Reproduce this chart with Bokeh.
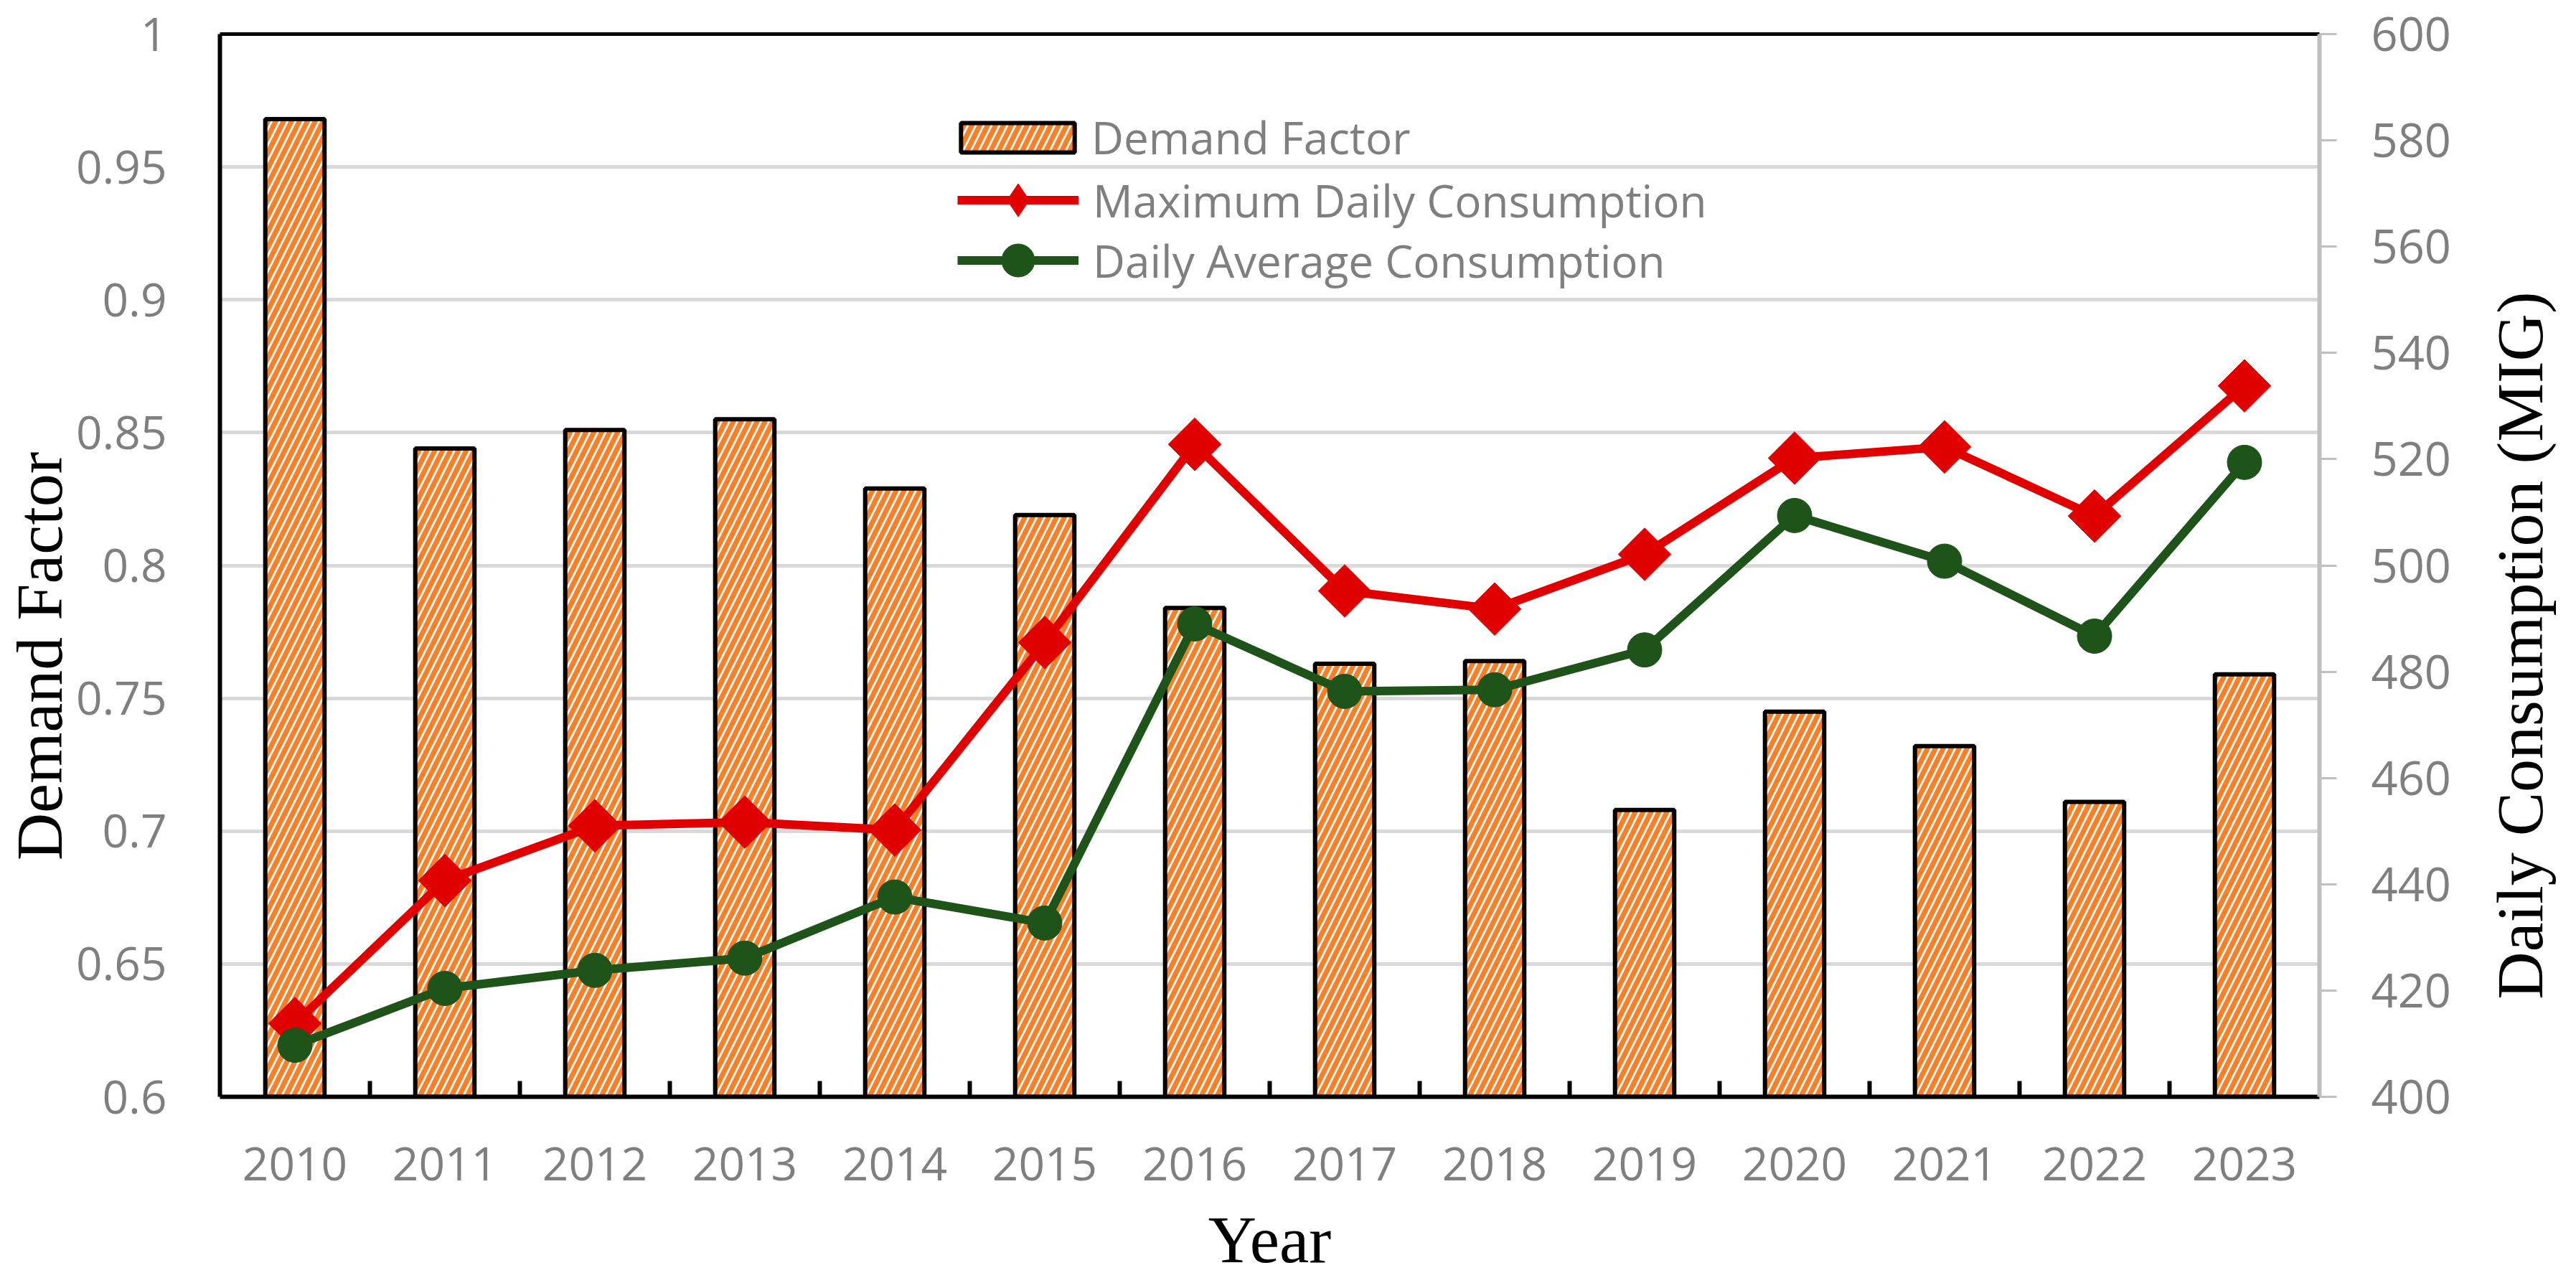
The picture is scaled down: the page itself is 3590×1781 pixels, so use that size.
import math
from bokeh.plotting import figure
from bokeh.models import (Range1d, LinearAxis, FixedTicker, NumeralTickFormatter,
                          Legend, LegendItem, ColumnDataSource, Label)
from bokeh.embed import file_html
from bokeh.resources import INLINE

# ---------------- data ----------------
years = [2010, 2011, 2012, 2013, 2014, 2015, 2016, 2017, 2018, 2019, 2020, 2021, 2022, 2023]
demand_factor = [0.968, 0.844, 0.851, 0.855, 0.829, 0.819, 0.784, 0.763, 0.764, 0.708, 0.745, 0.732, 0.711, 0.759]
max_daily = [413.8, 440.7, 451.0, 451.7, 450.2, 485.5, 522.8, 495.2, 491.8, 502.1, 520.2, 522.3, 509.3, 533.8]
avg_daily = [409.7, 420.4, 423.8, 426.1, 437.6, 432.7, 489.0, 476.3, 476.6, 484.1, 509.4, 500.8, 486.7, 519.4]
left_ticks = [0.6, 0.65, 0.7, 0.75, 0.8, 0.85, 0.9, 0.95, 1.0]
right_ticks = [400, 420, 440, 460, 480, 500, 520, 540, 560, 580, 600]
year_labels = [str(y) for y in years]

# ---------------- styles ----------------
GRAY_TXT = "#7F7F7F"
RED = "#E00000"
GREEN = "#1E5319"
ORANGE = "#FD7E25"
SANS = "Open Sans"
SERIF = "Liberation Serif"
NBSP = "\u00a0"

n = len(years)
xs = [i + 0.5 for i in range(n)]
boundaries = [i for i in range(1, n)]

src = ColumnDataSource(dict(x=xs, df=demand_factor, mx=max_daily, av=avg_daily))

W, H = 3590, 1781
p = figure(width=W, height=H, output_backend="svg", toolbar_location=None,
           x_range=Range1d(0, n), y_range=Range1d(left_ticks[0], left_ticks[-1]),
           min_border_left=305, min_border_right=358, min_border_top=47, min_border_bottom=252)
p.outline_line_color = None
p.background_fill_color = "white"
p.border_fill_color = "white"
p.xgrid.visible = False
p.ygrid.grid_line_color = "#D9D9D9"
p.ygrid.grid_line_width = 5

p.extra_y_ranges = {"right": Range1d(right_ticks[0], right_ticks[-1])}

bars = p.vbar(x='x', top='df', bottom=left_ticks[0], width=0.395, source=src,
              fill_color="white", line_color="black", line_width=6,
              hatch_pattern="/", hatch_color=ORANGE, hatch_scale=22, hatch_weight=7)

l_max = p.line('x', 'mx', source=src, y_range_name="right", line_color=RED,
               line_width=12, line_join="round")
s_max = p.scatter('x', 'mx', source=src, y_range_name="right", marker="square",
                  angle=math.pi / 4, size=52, fill_color=RED, line_color=RED)
# legend-only diamond (hidden in plot)
d_max = p.scatter('x', 'mx', source=src, y_range_name="right", marker="diamond",
                  size=52, fill_color=RED, line_color=RED, visible=False)
l_avg = p.line('x', 'av', source=src, y_range_name="right", line_color=GREEN,
               line_width=12, line_join="round")
s_avg = p.scatter('x', 'av', source=src, y_range_name="right", marker="circle",
                  size=48, fill_color=GREEN, line_color=GREEN)

# ---- left axis ----
ya = p.yaxis[0]
ya.ticker = FixedTicker(ticks=left_ticks)
ya.formatter = NumeralTickFormatter(format="0.[00]")
ya.axis_line_color = "black"
ya.axis_line_width = 6
ya.major_tick_out = 0
ya.major_tick_in = 0
ya.minor_tick_out = 0
ya.minor_tick_in = 0
ya.major_label_standoff = 74
ya.major_label_text_font = SANS
ya.major_label_text_font_size = "64px"
ya.major_label_text_color = GRAY_TXT
ya.axis_label = "Demand Factor" + NBSP * 11
ya.axis_label_text_font = SERIF
ya.axis_label_text_font_size = "92px"
ya.axis_label_text_font_style = "normal"
ya.axis_label_text_color = "black"
ya.axis_label_standoff = -3

# ---- bottom axis ----
xa = p.xaxis[0]
xa.ticker = FixedTicker(ticks=xs, minor_ticks=boundaries)
xa.major_label_overrides = {x: lab for x, lab in zip(xs, year_labels)}
xa.axis_line_color = "black"
xa.axis_line_width = 6
xa.major_tick_out = 0
xa.major_tick_in = 0
xa.minor_tick_out = 0
xa.minor_tick_in = 22
xa.minor_tick_line_color = "black"
xa.minor_tick_line_width = 6
xa.major_label_standoff = 70
xa.major_label_text_font = SANS
xa.major_label_text_font_size = "64px"
xa.major_label_text_color = GRAY_TXT
xa.axis_label = "Year"
xa.axis_label_text_font = SERIF
xa.axis_label_text_font_size = "93px"
xa.axis_label_text_font_style = "normal"
xa.axis_label_text_color = "black"
xa.axis_label_standoff = 28

# ---- right axis ----
ra = LinearAxis(y_range_name="right", ticker=FixedTicker(ticks=right_ticks))
ra.axis_line_color = "#BFBFBF"
ra.axis_line_width = 6
ra.major_tick_out = 24
ra.major_tick_in = 0
ra.major_tick_line_color = "#BFBFBF"
ra.major_tick_line_width = 3
ra.minor_tick_out = 0
ra.minor_tick_in = 0
ra.major_label_standoff = 48
ra.major_label_text_font = SANS
ra.major_label_text_font_size = "65px"
ra.major_label_text_color = GRAY_TXT
p.add_layout(ra, "right")

# ---- right title (rotated, reading bottom-up), in its own side panel ----
right_title = Label(text="Daily Consumption (MIG)", x=93, y=629, x_units="screen", y_units="screen",
                    angle=math.pi / 2, text_align="center", text_baseline="middle",
                    text_font=SERIF, text_font_size="92px", text_color="black")
p.add_layout(right_title, "right")

# ---- top border ----
ta = LinearAxis(ticker=FixedTicker(ticks=[]))
ta.axis_line_color = "black"
ta.axis_line_width = 5
ta.major_tick_out = 0
ta.major_tick_in = 0
ta.minor_tick_out = 0
ta.minor_tick_in = 0
ta.major_label_text_font_size = "0px"
p.add_layout(ta, "above")

# ---- legends ----
def make_legend(items, loc, gw, gh, standoff):
    leg = Legend(items=items, location=loc)
    leg.glyph_width = gw
    leg.glyph_height = gh
    leg.label_standoff = standoff
    leg.label_text_font = SANS
    leg.label_text_font_size = "62px"
    leg.label_text_color = GRAY_TXT
    leg.label_text_baseline = "middle"
    leg.border_line_color = None
    leg.background_fill_alpha = 0
    leg.padding = 0
    leg.margin = 0
    leg.spacing = 0
    p.add_layout(leg, "center")
    return leg

make_legend([LegendItem(label="Demand Factor", renderers=[bars])], (1013, 1295), 198, 51, 4)
make_legend([LegendItem(label="Maximum Daily Consumption", renderers=[l_max, d_max])],
            (1028, 1192), 169, 115, 20)
make_legend([LegendItem(label="Daily Average Consumption", renderers=[l_avg, s_avg])],
            (1028, 1108), 169, 115, 20)

open("out.html", "w").write(file_html(p, INLINE))
